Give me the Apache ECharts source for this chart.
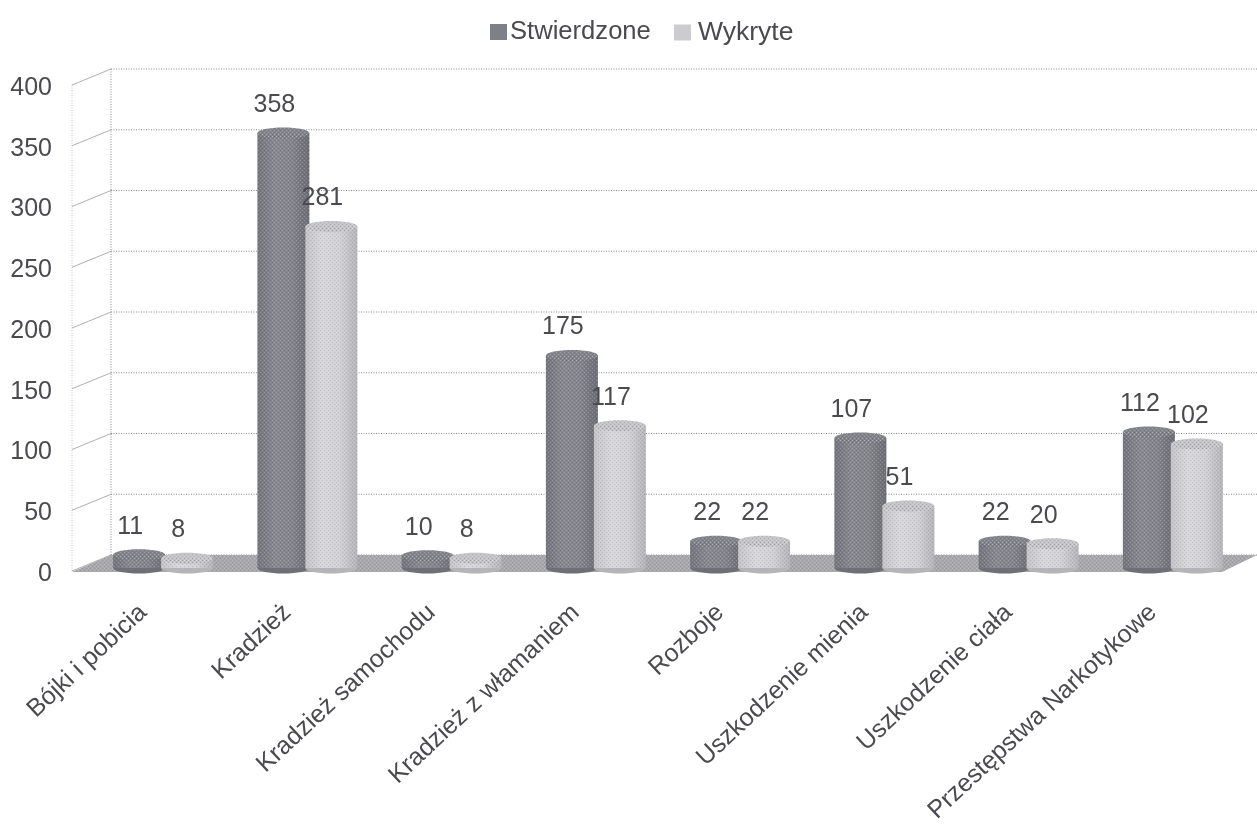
<!DOCTYPE html>
<html><head><meta charset="utf-8">
<style>html,body{margin:0;padding:0;background:#fff}#c{width:1257px;height:831px}</style>
<script src="https://cdn.jsdelivr.net/npm/echarts@6/dist/echarts.min.js"></script>
</head><body><div id="c"></div>
<script>
const categories = ['Bójki i pobicia','Kradzież','Kradzież samochodu','Kradzież z włamaniem','Rozboje','Uszkodzenie mienia','Uszkodzenie ciała','Przestępstwa Narkotykowe'];
const stwierdzone = [11,358,10,175,22,107,22,112];
const wykryte = [8,281,8,117,22,51,20,102];
const yTicks = [0,50,100,150,200,250,300,350,400];

const TXT = '#4a4a4f', FONT = 'Liberation Sans';
const DEPTH_Y = 16, BAR_W = 52, SHIFT = 10, LIFT = 3;
const chart = echarts.init(document.getElementById('c'), null, {renderer:'canvas'});

// halftone texture of the scanned print
function grain(){
  const c = document.createElement('canvas'); c.width = c.height = 4;
  const g = c.getContext('2d');
  g.fillStyle = 'rgba(255,255,255,.20)';
  g.fillRect(0,0,1,1); g.fillRect(2,2,1,1);
  g.fillStyle = 'rgba(50,50,60,.15)';
  g.fillRect(2,0,1,1); g.fillRect(0,2,1,1);
  return {image:c, repeat:'repeat'};
}
const GRAIN = grain();
function grad(stops){
  return new echarts.graphic.LinearGradient(0,0,1,0,stops.map((c,i)=>({offset:i/(stops.length-1),color:c})));
}
function cylinder(xShift, side, cap, base, labelDx){
  return function(params, api){
    const p = api.coord([api.value(0), api.value(1)]);
    const z = api.coord([api.value(0), 0]);
    const cx = p[0] + xShift + SHIFT, top = p[1] - 3 - LIFT, bot = z[1] - 3 - LIFT;
    const l = cx - BAR_W/2, ry = 5.5, h = Math.max(bot-top,0);
    return {type:'group', children:[
      {type:'ellipse', shape:{cx:cx, cy:bot, rx:BAR_W/2, ry:ry}, style:{fill:base}},
      {type:'rect', shape:{x:l, y:top, width:BAR_W, height:h}, style:{fill:side}},
      {type:'ellipse', shape:{cx:cx, cy:top, rx:BAR_W/2, ry:ry}, style:{fill:cap}},
      {type:'rect', shape:{x:l, y:top, width:BAR_W, height:h}, style:{fill:GRAIN}},
      {type:'ellipse', shape:{cx:cx, cy:top, rx:BAR_W/2, ry:ry}, style:{fill:GRAIN}},
      {type:'text', x:cx+labelDx, y:top-28, style:{text:String(api.value(1)), fill:TXT, font:'25px "'+FONT+'"', align:'center', verticalAlign:'middle'}, z2:50}
    ]};
  };
}
function wall(params, api){
  const cs = params.coordSys, v = api.value(0), y = api.coord([0,v])[1] - LIFT;
  const fx = cs.x + 1, bx = cs.x + 40, rx = 1257;
  const dot = {stroke:'#8d8d92', lineWidth:1, lineDash:[1,1.5]};
  const kids = [
    {type:'line', shape:{x1:fx,y1:y,x2:bx,y2:y-DEPTH_Y}, style:{stroke:'#b0b0b4', lineWidth:1}},
    {type:'line', shape:{x1:bx,y1:y-DEPTH_Y,x2:rx,y2:y-DEPTH_Y}, style:dot}
  ];
  if(v===0){
    const pts = [[fx,y+1],[bx,y-DEPTH_Y],[rx,y-DEPTH_Y],[rx-35,y+1]];
    kids.unshift(
      {type:'line', shape:{x1:fx,y1:y,x2:fx,y2:cs.y-LIFT}, style:{stroke:'#c4c4c8',lineWidth:1,lineDash:[1,1.5]}},
      {type:'line', shape:{x1:bx,y1:y-DEPTH_Y,x2:bx,y2:cs.y-LIFT-DEPTH_Y}, style:dot},
      {type:'polygon', shape:{points:pts}, style:{fill:'#a8a8ad'}, z2:5},
      {type:'polygon', shape:{points:pts}, style:{fill:GRAIN}, z2:6}
    );
  }
  return {type:'group', children:kids};
}
const legendBase = {top:14, itemWidth:17, itemHeight:16, icon:'rect'};
chart.setOption({
  animation:false,
  backgroundColor:'#fff',
  textStyle:{fontFamily:FONT},
  legend:[
    Object.assign({left:485, data:['Stwierdzone'], textStyle:{fontSize:25.6, color:TXT, fontFamily:FONT, padding:[0,0,0,-2]}}, legendBase),
    Object.assign({left:669, data:['Wykryte'], textStyle:{fontSize:26.5, color:TXT, fontFamily:FONT, padding:[0,0,0,2]}}, legendBase)
  ],
  grid:{left:71, top:88, width:1154, height:486, containLabel:false},
  xAxis:{type:'category', data:categories, axisLine:{show:false}, axisTick:{show:false}, splitLine:{show:false},
    axisLabel:{rotate:43, interval:0, margin:35, color:TXT, fontSize:25, fontFamily:FONT}},
  yAxis:{type:'value', min:0, max:400, interval:50, axisLine:{show:false}, axisTick:{show:false}, splitLine:{show:false},
    axisLabel:{margin:19, color:TXT, fontSize:25, fontFamily:FONT}},
  series:[
    {type:'custom', name:'wall', silent:true, clip:false, z:1, renderItem:wall, encode:{y:0},
      data:yTicks.map(v=>[v])},
    {type:'custom', name:'Stwierdzone', clip:false, z:3, itemStyle:{color:'#7f7f87'},
      encode:{x:0,y:1},
      renderItem:cylinder(-14, grad(['#74747c','#888890','#84848b','#6c6c74']), '#84848c', '#6f6f77', -9),
      data:stwierdzone.map((v,i)=>[i,v])},
    {type:'custom', name:'Wykryte', clip:false, z:4, itemStyle:{color:'#cbcbd0'},
      encode:{x:0,y:1},
      renderItem:cylinder(34, grad(['#c4c4c9','#d8d8dc','#d2d2d6','#b4b4b9']), '#c4c4c9', '#b4b4b9', -9),
      data:wykryte.map((v,i)=>[i,v])}
  ]
});
</script></body></html>
